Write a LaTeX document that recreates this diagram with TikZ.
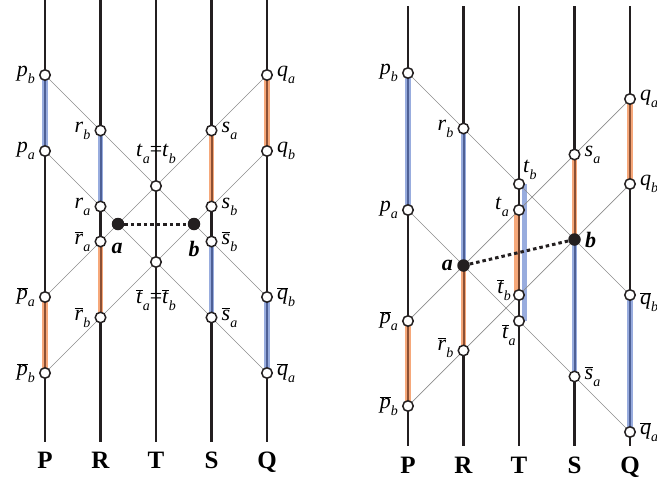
\documentclass[tikz,border=0pt]{standalone}
\usepackage{fontspec}
\setmainfont{Liberation Serif}
\usetikzlibrary{positioning}
\definecolor{bandblue}{RGB}{152,172,222}
\definecolor{coreblue}{RGB}{78,96,150}
\definecolor{bandorange}{RGB}{246,168,122}
\definecolor{coreorange}{RGB}{140,80,52}
\definecolor{ink}{RGB}{35,31,32}
\pgfdeclarelayer{bg}
\pgfsetlayers{bg,main}
\newcommand{\vsub}[1]{\raisebox{-7pt}{\fontsize{14}{14}\selectfont\textit{#1}}}
\newcommand{\vl}[2]{\textit{#1}\vsub{#2}}
\newcommand{\vlb}[2]{$\overline{\hbox{\textit{#1}}}$\vsub{#2}}
\tikzset{
  axis/.style={draw=ink, line width=2.4pt},
  diag/.style={draw=black!45, line width=0.7pt},
  blueband/.style={draw=bandblue, double=coreblue, double distance=2pt, line width=1.6pt},
  orangeband/.style={draw=bandorange, double=coreorange, double distance=2pt, line width=1.6pt},
  vtx/.style={circle, draw=ink, fill=white, line width=1.5pt, minimum size=10.5pt, inner sep=0pt},
  event/.style={circle, fill=ink, minimum size=12.5pt, inner sep=0pt},
  link/.style={draw=ink, line width=3pt, dash pattern=on 3.5pt off 3pt},
  lbl/.style={font=\fontsize{22}{22}\selectfont, inner sep=1pt},
  evlbl/.style={font=\fontsize{22}{22}\selectfont\bfseries\itshape, inner sep=1pt},
  axlbl/.style={font=\fontsize{25}{25}\selectfont\bfseries, anchor=base}
}

\begin{document}
\begin{tikzpicture}[x=1pt, y=-1pt, label distance=3pt]
  \useasboundingbox (0,0) rectangle (657,485);

  % left diagram
  \foreach \n/\x in {P/45,R/100.5,T/156,S/211.5,Q/267}{
    \coordinate (l\n top) at (\x,0);
    \coordinate (l\n bot) at (\x,442);
    \node[axlbl] (l\n) at (\x,468) {\n};
  }
  \node[vtx, label={[lbl]left:\vl{p}{b}}] (lpb) at (45,75) {};
  \node[vtx, label={[lbl]left:\vl{p}{a}}] (lpa) at (45,151) {};
  \node[vtx, label={[lbl]left:\vl{r}{b}}] (lrb) at (100.5,130.5) {};
  \node[vtx, label={[lbl]left:\vl{r}{a}}] (lra) at (100.5,206.5) {};
  \node[vtx, label={[lbl]right:\vl{s}{a}}] (lsa) at (211.5,130.5) {};
  \node[vtx, label={[lbl]right:\vl{s}{b}}] (lsb) at (211.5,206.5) {};
  \node[vtx, label={[lbl]right:\vl{q}{a}}] (lqa) at (267,75) {};
  \node[vtx, label={[lbl]right:\vl{q}{b}}] (lqb) at (267,151) {};
  \node[vtx] (ltt) at (156,186) {};
  \node[lbl] (ltl) at (156,154) {\vl{t}{a}=\vl{t}{b}};
  \node[event, label={[evlbl, label distance=11pt, xshift=-1pt]below:a}] (la) at (118,224) {};
  \node[event, label={[evlbl, label distance=10pt]below:b}] (lb) at (194,224) {};
  \node[vtx, label={[lbl]left:\vlb{r}{a}}] (lnra) at (100.5,241.5) {};
  \node[vtx, label={[lbl]right:\vlb{s}{b}}] (lnsb) at (211.5,241.5) {};
  \node[vtx] (lntt) at (156,262) {};
  \node[lbl] (lntl) at (156,300) {\vlb{t}{a}=\vlb{t}{b}};
  \node[vtx, label={[lbl]left:\vlb{p}{a}}] (lnpa) at (45,297) {};
  \node[vtx, label={[lbl]right:\vlb{q}{b}}] (lnqb) at (267,297) {};
  \node[vtx, label={[lbl]left:\vlb{r}{b}}] (lnrb) at (100.5,317.5) {};
  \node[vtx, label={[lbl]right:\vlb{s}{a}}] (lnsa) at (211.5,317.5) {};
  \node[vtx, label={[lbl]left:\vlb{p}{b}}] (lnpb) at (45,373) {};
  \node[vtx, label={[lbl]right:\vlb{q}{a}}] (lnqa) at (267,373) {};

  % right diagram
  \foreach \n/\x in {P/408,R/463.5,T/519,S/574.5,Q/630}{
    \coordinate (r\n top) at (\x,6);
    \coordinate (r\n bot) at (\x,446);
    \node[axlbl] (r\n) at (\x,473) {\n};
  }
  \node[vtx, label={[lbl]left:\vl{p}{b}}] (rpb) at (408,73) {};
  \node[vtx, label={[lbl]left:\vl{p}{a}}] (rpa) at (408,210) {};
  \node[vtx, label={[lbl]left:\vl{r}{b}}] (rrb) at (463.5,128.5) {};
  \node[vtx, label={[lbl]right:\vl{s}{a}}] (rsa) at (574.5,154.5) {};
  \node[vtx, label={[lbl]right:\vl{q}{a}}] (rqa) at (630,99) {};
  \node[vtx, label={[lbl]right:\vl{q}{b}}] (rqb) at (630,184) {};
  \node[vtx, label={[lbl, label distance=-2pt]above right:\vl{t}{b}}] (rtb) at (519,184) {};
  \node[vtx, label={[lbl, yshift=3pt]left:\vl{t}{a}}] (rta) at (519,210) {};
  \node[event, label={[evlbl, label distance=3pt]left:a}] (ra) at (463.5,265.5) {};
  \node[event, label={[evlbl, label distance=3pt]right:b}] (rb) at (574.5,239.5) {};
  \node[vtx, label={[lbl, yshift=5pt, label distance=1pt]left:\vlb{t}{b}}] (rntb) at (519,295) {};
  \node[vtx, label={[lbl, yshift=-7pt]right:\vlb{q}{b}}] (rnqb) at (630,295) {};
  \node[vtx, label={[lbl]left:\vlb{p}{a}}] (rnpa) at (408,321) {};
  \node[vtx, label={[lbl, label distance=-3pt]below left:\vlb{t}{a}}] (rnta) at (519,321) {};
  \node[vtx, label={[lbl, yshift=3pt]left:\vlb{r}{b}}] (rnrb) at (463.5,350.5) {};
  \node[vtx, label={[lbl]right:\vlb{s}{a}}] (rnsa) at (574.5,376.5) {};
  \node[vtx, label={[lbl]left:\vlb{p}{b}}] (rnpb) at (408,406) {};
  \node[vtx, label={[lbl]right:\vlb{q}{a}}] (rnqa) at (630,432) {};

  \begin{pgfonlayer}{bg}
    \foreach \n in {P,R,T,S,Q}{
      \draw[axis] (l\n top) -- (l\n bot);
      \draw[axis] (r\n top) -- (r\n bot);
    }
    % world lines, left
    \draw[blueband] (lpb.center) -- (lpa.center);
    \draw[blueband] (lrb.center) -- (lra.center);
    \draw[orangeband] (lsa.center) -- (lsb.center);
    \draw[orangeband] (lqa.center) -- (lqb.center);
    \draw[orangeband] (lnpa.center) -- (lnpb.center);
    \draw[orangeband] (lnra.center) -- (lnrb.center);
    \draw[blueband] (lnsb.center) -- (lnsa.center);
    \draw[blueband] (lnqb.center) -- (lnqa.center);
    % world lines, right
    \draw[blueband] (rpb.center) -- (rpa.center);
    \draw[orangeband] (rnpa.center) -- (rnpb.center);
    \draw[blueband] (rrb.center) -- (ra.center);
    \draw[orangeband] (ra.center) -- (rnrb.center);
    \draw[orangeband] (rsa.center) -- (rb.center);
    \draw[blueband] (rb.center) -- (rnsa.center);
    \draw[orangeband] (rqa.center) -- (rqb.center);
    \draw[blueband] (rnqb.center) -- (rnqa.center);
    \draw[draw=bandorange, line width=4.5pt] ([xshift=-3pt]rta.center) -- ([xshift=-3pt]rntb.center);
    \draw[draw=bandblue, line width=5pt] ([xshift=5pt]rtb.center) -- ([xshift=5pt]rnta.center);
    \draw[axis, draw=coreorange!80!black] (rta.center) -- (rntb.center);
    % light rays
    \draw[diag] (lpb) -- (lrb) -- (ltt) -- (lnsb) -- (lnqb);
    \draw[diag] (lpa) -- (lra) -- (la) -- (lntt) -- (lnsa) -- (lnqa);
    \draw[diag] (lqa) -- (lsa) -- (ltt) -- (lnra) -- (lnpa);
    \draw[diag] (lqb) -- (lsb) -- (lb) -- (lntt) -- (lnrb) -- (lnpb);
    \draw[diag] (rpb) -- (rrb) -- (rtb) -- (rb) -- (rnqb);
    \draw[diag] (rpa) -- (ra) -- (rnta) -- (rnsa) -- (rnqa);
    \draw[diag] (rqa) -- (rsa) -- (rta) -- (ra) -- (rnpa);
    \draw[diag] (rqb) -- (rb) -- (rntb) -- (rnrb) -- (rnpb);
    % simultaneity
    \draw[link] (la) -- (lb);
    \draw[link] (ra) -- (rb);
  \end{pgfonlayer}
\end{tikzpicture}
\end{document}
